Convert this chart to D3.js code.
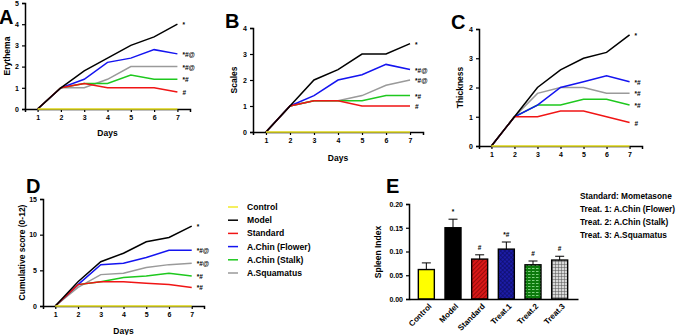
<!DOCTYPE html>
<html>
<head>
<meta charset="utf-8">
<script src="https://cdn.jsdelivr.net/npm/d3@7"></script>
<style>
  body { margin: 0; background: #fff; }
  svg text { font-family: "Liberation Sans", Arial, sans-serif; font-weight: bold; fill: #000; }
</style>
</head>
<body>
<div id="chart"></div>
<script>
// days on the x axis of the line panels
var days = [1, 2, 3, 4, 5, 6, 7];
var groups = ["Control", "Model", "Standard", "A.Chin (Flower)", "A.Chin (Stalk)", "A.Squamatus"];
var groupColors = ["#f2ea2a", "#000000", "#f01515", "#1414f0", "#1ec81e", "#9a9a9a"];

// scores per group, same order as groups
var erythema = [
    [0, 0, 0, 0, 0, 0, 0],
    [0, 1, 1.8, 2.4, 3.0, 3.4, 4.0],
    [0, 1, 1.2, 1.0, 1.0, 1.0, 0.8],
    [0, 1, 1.4, 2.2, 2.4, 2.8, 2.6],
    [0, 1, 1.2, 1.2, 1.6, 1.4, 1.4],
    [0, 1, 1.0, 1.4, 2.0, 2.0, 2.0]
];
var erythemaMarks = ["", "*", "#", "*#@", "*#", "*#@"];

var scales = [
    [0, 0, 0, 0, 0, 0, 0],
    [0, 1, 2.0, 2.4, 3.0, 3.0, 3.4],
    [0, 1, 1.2, 1.2, 1.0, 1.0, 1.0],
    [0, 1, 1.4, 2.0, 2.2, 2.6, 2.4],
    [0, 1, 1.2, 1.2, 1.2, 1.4, 1.4],
    [0, 1, 1.2, 1.2, 1.4, 1.8, 2.0]
];
var scalesMarks = ["", "*", "#", "*#@", "*#", "*#@"];

var thickness = [
    [0, 0, 0, 0, 0, 0, 0],
    [0, 1, 2.0, 2.6, 3.0, 3.2, 3.8],
    [0, 1, 1.0, 1.2, 1.2, 1.0, 0.8],
    [0, 1, 1.4, 2.0, 2.2, 2.4, 2.2],
    [0, 1, 1.4, 1.4, 1.6, 1.6, 1.4],
    [0, 1, 1.8, 2.0, 2.0, 1.8, 1.8]
];
var thicknessMarks = ["", "*", "#", "*#", "*#", "*#"];

var cumulative = [
    [0, 0, 0, 0, 0, 0, 0],
    [0, 3.4, 6.2, 7.4, 9.0, 9.6, 11.2],
    [0, 3.0, 3.4, 3.4, 3.2, 3.0, 2.6],
    [0, 3.0, 5.8, 6.0, 6.8, 7.8, 7.8],
    [0, 3.0, 3.4, 4.0, 4.2, 4.6, 4.2],
    [0, 2.6, 4.4, 4.6, 5.4, 5.8, 6.0]
];
var cumulativeMarks = ["", "*", "*#", "*#@", "*#", "*#@"];

// spleen index bars
var barNames = ["Control", "Model", "Standard", "Treat.1", "Treat.2", "Treat.3"];
var spleen = [0.062, 0.150, 0.084, 0.105, 0.072, 0.082];
var spleenErr = [0.014, 0.018, 0.009, 0.015, 0.008, 0.008];
var spleenMarks = ["", "*", "#", "*#", "#", "#"];
var notes = ["Standard: Mometasone", "Treat. 1: A.Chin (Flower)", "Treat. 2: A.Chin (Stalk)", "Treat. 3: A.Squamatus"];

var svg = d3.select("#chart").append("svg")
    .attr("width", 681)
    .attr("height", 335);

// hatch patterns for the bars
var defs = svg.append("defs");
var p1 = defs.append("pattern").attr("id", "hatchRed").attr("patternUnits", "userSpaceOnUse")
    .attr("width", 3).attr("height", 3).attr("patternTransform", "rotate(45)");
p1.append("rect").attr("width", 3).attr("height", 3).attr("fill", "#d81818");
p1.append("line").attr("x1", 0).attr("y1", 0).attr("x2", 0).attr("y2", 3)
    .attr("stroke", "#700000").attr("stroke-width", 1.2);

var p2 = defs.append("pattern").attr("id", "hatchBlue").attr("patternUnits", "userSpaceOnUse")
    .attr("width", 3).attr("height", 3).attr("patternTransform", "rotate(45)");
p2.append("rect").attr("width", 3).attr("height", 3).attr("fill", "#1c1ca8");
p2.append("path").attr("d", "M0,0V3M0,0H3").attr("stroke", "#0a0a55").attr("stroke-width", 1);

var p3 = defs.append("pattern").attr("id", "hatchGreen").attr("patternUnits", "userSpaceOnUse")
    .attr("width", 4).attr("height", 3);
p3.append("rect").attr("width", 4).attr("height", 3).attr("fill", "#0c7a0c");
p3.append("path").attr("d", "M0,1.5H2.5").attr("stroke", "#7fd07f").attr("stroke-width", 1);

var p4 = defs.append("pattern").attr("id", "hatchGray").attr("patternUnits", "userSpaceOnUse")
    .attr("width", 3).attr("height", 3);
p4.append("rect").attr("width", 3).attr("height", 3).attr("fill", "#d8d8d8");
p4.append("path").attr("d", "M0,0V3M0,0H3").attr("stroke", "#555").attr("stroke-width", 1);

var barFills = ["#ffff00", "#000000", "url(#hatchRed)", "url(#hatchBlue)", "url(#hatchGreen)", "url(#hatchGray)"];

function styleAxis(g) {
    g.select(".domain").attr("stroke", "#000").attr("stroke-width", 1.5);
    g.selectAll(".tick line").attr("stroke", "#000").attr("stroke-width", 1.2);
    g.selectAll(".tick text").style("font-size", "7px");
}

function linePanel(p) {
    var x = d3.scaleLinear().domain([0.46, 7.54]).range([p.left, p.right]);
    var y = d3.scaleLinear().domain([0, p.yMax]).range([p.bottom, p.top]);

    svg.append("g")
        .attr("transform", "translate(0," + p.bottom + ")")
        .call(d3.axisBottom(x).tickValues(days).tickFormat(d3.format("d")).tickSize(3))
        .call(styleAxis);
    svg.append("g")
        .attr("transform", "translate(" + p.left + ",0)")
        .call(d3.axisLeft(y).tickValues(p.yTicks).tickFormat(d3.format("d")).tickSize(3))
        .call(styleAxis);

    var line = d3.line()
        .x(function(d, i) { return x(days[i]); })
        .y(function(d) { return y(d); });

    // draw order so model stays on top, control over the axis
    var order = [5, 4, 3, 2, 1, 0];
    order.forEach(function(k) {
        svg.append("path")
            .datum(p.data[k])
            .attr("fill", "none")
            .attr("stroke", groupColors[k])
            .attr("stroke-width", 1.5)
            .attr("d", line);
    });

    p.marks.forEach(function(m, k) {
        if (!m) return;
        var last = p.data[k][days.length - 1];
        svg.append("text")
            .attr("x", x(7) + 5)
            .attr("y", y(last) + 3)
            .style("font-size", "6.5px")
            .text(m);
    });

    svg.append("text")
        .attr("transform", "translate(" + p.titleX + "," + (p.top + p.bottom) / 2 + ") rotate(-90)")
        .attr("text-anchor", "middle")
        .style("font-size", "8.5px")
        .text(p.title);

    if (p.daysY) {
        svg.append("text")
            .attr("x", (x(1) + x(7)) / 2)
            .attr("y", p.daysY)
            .attr("text-anchor", "middle")
            .style("font-size", "8.5px")
            .text("Days");
    }

    svg.append("text")
        .attr("x", p.letterX)
        .attr("y", p.letterY)
        .style("font-size", "20px")
        .text(p.letter);
}

linePanel({ data: erythema, marks: erythemaMarks, yMax: 5, yTicks: [0, 1, 2, 3, 4, 5],
    left: 25, right: 190, top: 3, bottom: 109, title: "Erythema", titleX: 10,
    daysY: 136, letter: "A", letterX: -1, letterY: 24 });
linePanel({ data: scales, marks: scalesMarks, yMax: 4, yTicks: [0, 1, 2, 3, 4],
    left: 253, right: 423, top: 28, bottom: 132, title: "Scales", titleX: 237,
    daysY: 161, letter: "B", letterX: 225, letterY: 28 });
linePanel({ data: thickness, marks: thicknessMarks, yMax: 4, yTicks: [0, 1, 2, 3, 4],
    left: 479, right: 642, top: 29, bottom: 146, title: "Thickness", titleX: 463,
    daysY: 0, letter: "C", letterX: 451, letterY: 29 });
linePanel({ data: cumulative, marks: cumulativeMarks, yMax: 15, yTicks: [0, 5, 10, 15],
    left: 43, right: 204, top: 199, bottom: 306, title: "Cumulative score (0-12)", titleX: 25,
    daysY: 334, letter: "D", letterX: 26, letterY: 193 });

// legend for line panels
var legend = svg.append("g").attr("transform", "translate(228,207)");
groups.forEach(function(name, i) {
    var row = legend.append("g").attr("transform", "translate(0," + i * 13.2 + ")");
    row.append("line").attr("x1", 0).attr("x2", 10).attr("y1", 0).attr("y2", 0)
        .attr("stroke", groupColors[i]).attr("stroke-width", 1.5);
    row.append("text").attr("x", 19).attr("y", 3).style("font-size", "8.6px").text(name);
});

// panel E: spleen index bars
var xb = d3.scaleBand().domain(barNames).range([413, 573]).paddingInner(0.4).paddingOuter(0.2);
var yb = d3.scaleLinear().domain([0, 0.2]).range([299, 204]);

svg.selectAll("rect.bar")
    .data(spleen)
    .enter()
    .append("rect")
    .attr("class", "bar")
    .attr("x", function(d, i) { return xb(barNames[i]); })
    .attr("y", function(d) { return yb(d); })
    .attr("width", xb.bandwidth())
    .attr("height", function(d) { return yb(0) - yb(d); })
    .attr("fill", function(d, i) { return barFills[i]; })
    .attr("stroke", "#000")
    .attr("stroke-width", 1.4);

spleen.forEach(function(v, i) {
    var cx = xb(barNames[i]) + xb.bandwidth() / 2;
    var top = yb(v + spleenErr[i]);
    svg.append("path")
        .attr("d", "M" + cx + "," + yb(v) + "V" + top + "M" + (cx - 4.5) + "," + top + "H" + (cx + 4.5))
        .attr("stroke", "#000")
        .attr("stroke-width", 1)
        .attr("fill", "none");
    if (spleenMarks[i]) {
        svg.append("text")
            .attr("x", cx)
            .attr("y", top - 5)
            .attr("text-anchor", "middle")
            .style("font-size", "6.5px")
            .text(spleenMarks[i]);
    }
});

svg.append("g")
    .attr("transform", "translate(0,299)")
    .call(d3.axisBottom(d3.scaleLinear().domain([0, 1]).range([409, 578])).ticks(0).tickSize(0))
    .call(styleAxis);
svg.append("g")
    .attr("transform", "translate(409,0)")
    .call(d3.axisLeft(yb).tickValues([0, 0.05, 0.10, 0.15, 0.20]).tickFormat(d3.format(".2f")).tickSize(3))
    .call(styleAxis);

barNames.forEach(function(n) {
    var cx = xb(n) + xb.bandwidth() / 2;
    svg.append("text")
        .attr("transform", "translate(" + (cx + 3) + ",304) rotate(-45)")
        .attr("text-anchor", "end")
        .attr("dy", "0.5em")
        .style("font-size", "8px")
        .text(n);
});

svg.append("text")
    .attr("transform", "translate(381,252) rotate(-90)")
    .attr("text-anchor", "middle")
    .style("font-size", "8.5px")
    .text("Spleen Index");

svg.append("text")
    .attr("x", 386).attr("y", 193)
    .style("font-size", "20px")
    .text("E");

notes.forEach(function(t, i) {
    svg.append("text")
        .attr("x", 580)
        .attr("y", 199 + i * 13)
        .style("font-size", "8.3px")
        .text(t);
});
</script>
</body>
</html>
